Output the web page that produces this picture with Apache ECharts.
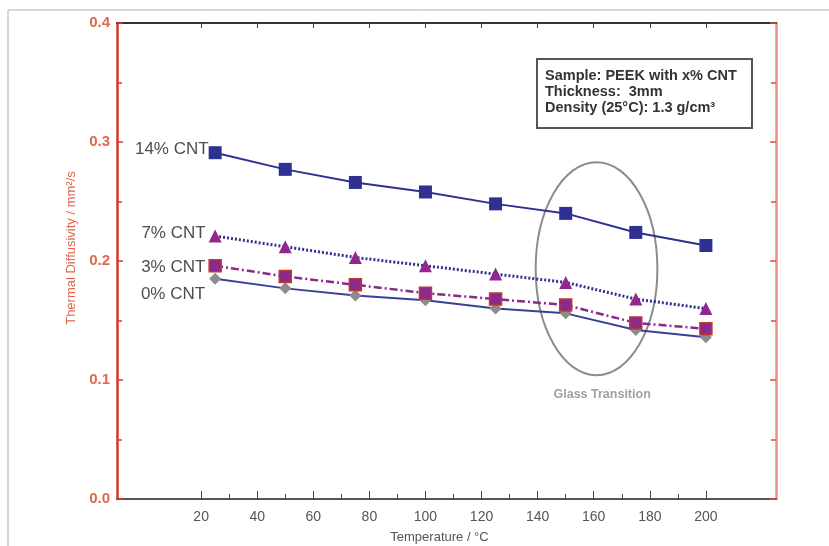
<!DOCTYPE html>
<html>
<head>
<meta charset="utf-8">
<script src="https://cdn.jsdelivr.net/npm/echarts@6/dist/echarts.min.js"></script>
<style>
  html, body { margin: 0; padding: 0; background: #fff; }
  #chart { width: 829px; height: 546px; }
</style>
</head>
<body>
<div id="chart"></div>
<script>
// temperatures (°C)
const temps = [25, 50, 75, 100, 125, 150, 175, 200];
// thermal diffusivity (mm²/s)
const cnt14 = [0.291, 0.277, 0.266, 0.258, 0.248, 0.240, 0.224, 0.213];
const cnt7 = [0.221, 0.212, 0.203, 0.196, 0.189, 0.182, 0.168, 0.160];
const cnt3 = [0.196, 0.187, 0.180, 0.173, 0.168, 0.163, 0.148, 0.143];
const cnt0 = [0.185, 0.177, 0.171, 0.167, 0.160, 0.156, 0.142, 0.136];
const seriesNames = ["14% CNT", "7% CNT", "3% CNT", "0% CNT"];

const majorTicks = [20, 40, 60, 80, 100, 120, 140, 160, 180, 200];
const minorTicks = [30, 50, 70, 90, 110, 130, 150, 170, 190];
const infoLines = ["Sample: PEEK with x% CNT", "Thickness:  3mm", "Density (25°C): 1.3 g/cm³"];

const font = "Liberation Sans, Arial, sans-serif";

function toPairs(vals, name, labelOffset, dist) {
    return vals.map((v, i) => {
        if (i > 0) return [temps[i], v];
        return {
            value: [temps[i], v],
            label: {
                show: true,
                position: "left",
                distance: dist,
                offset: labelOffset,
                formatter: name,
                color: "#4d4d4d",
                fontSize: 17,
                fontFamily: font
            }
        };
    });
}

let chart = echarts.init(document.getElementById("chart"), null, { renderer: "canvas" });

const xBase = { type: "value", min: -10, max: 225, splitLine: { show: false } };

const option = {
    animation: false,
    backgroundColor: "#fff",
    grid: { left: 117, right: 53, top: 23, bottom: 47, containLabel: false, outerBoundsMode: "none" },
    xAxis: [
        Object.assign({}, xBase, {
            position: "bottom",
            name: "Temperature / °C",
            nameLocation: "middle",
            nameGap: 32,
            nameTextStyle: { color: "#555", fontSize: 13, fontFamily: font, padding: [0, 14, 0, 0] },
            axisLine: { onZero: false, lineStyle: { color: "#555", width: 2 } },
            axisTick: { inside: true, length: 8, customValues: majorTicks, lineStyle: { color: "#444" } },
            axisLabel: { customValues: majorTicks, color: "#555", fontSize: 14, fontFamily: font, margin: 11 }
        }),
        Object.assign({}, xBase, {
            position: "bottom",
            axisLine: { show: false, onZero: false },
            axisTick: { inside: true, length: 5, customValues: minorTicks, lineStyle: { color: "#444" } },
            axisLabel: { show: false }
        }),
        Object.assign({}, xBase, {
            position: "top",
            axisLine: { onZero: false, lineStyle: { color: "#333", width: 2 } },
            axisTick: { inside: true, length: 5, customValues: majorTicks, lineStyle: { color: "#444" } },
            axisLabel: { show: false }
        })
    ],
    yAxis: [
        {
            type: "value",
            position: "left",
            min: 0,
            max: 0.4,
            interval: 0.1,
            name: "Thermal Diffusivity / mm²/s",
            nameLocation: "middle",
            nameGap: 38,
            nameTextStyle: { color: "#e2674d", fontSize: 13, fontFamily: font, padding: [0, 0, 0, 26] },
            splitLine: { show: false },
            axisLine: { onZero: false, lineStyle: { color: "#d8382c", width: 2.5 } },
            axisTick: { inside: true, length: 6, lineStyle: { color: "#d8382c", width: 1.5 } },
            minorTick: { show: true, splitNumber: 2, length: 5, lineStyle: { color: "#d8382c", width: 1.5 } },
            axisLabel: {
                color: "#e4674c",
                fontWeight: "bold",
                fontSize: 15,
                fontFamily: font,
                margin: 7,
                formatter: (v) => v.toFixed(1)
            }
        },
        {
            type: "value",
            position: "right",
            min: 0,
            max: 0.4,
            interval: 0.1,
            splitLine: { show: false },
            axisLine: { onZero: false, lineStyle: { color: "#ea937d", width: 2.5 } },
            axisTick: { inside: true, length: 6, lineStyle: { color: "#e04c3a", width: 1.5 } },
            minorTick: { show: true, splitNumber: 2, length: 5, lineStyle: { color: "#e04c3a", width: 1.5 } },
            axisLabel: { show: false }
        }
    ],
    series: [
        {
            name: seriesNames[3],
            type: "line",
            data: toPairs(cnt0, seriesNames[3], [0, 15], 4),
            symbol: "diamond",
            symbolSize: 12,
            lineStyle: { color: "#3a3f98", width: 2 },
            itemStyle: { color: "#8c8c8c" },
            z: 2
        },
        {
            name: seriesNames[2],
            type: "line",
            data: toPairs(cnt3, seriesNames[2], [0, 2], 3),
            symbol: "rect",
            symbolSize: 12,
            lineStyle: { color: "#8a2a8c", width: 2.5, type: [8, 3, 2, 3] },
            itemStyle: { color: "#8a2a8c", borderColor: "#c0392b", borderWidth: 1.5 },
            z: 3
        },
        {
            name: seriesNames[1],
            type: "line",
            data: toPairs(cnt7, seriesNames[1], [0, -3], 3),
            symbol: "triangle",
            symbolSize: 13,
            lineStyle: { color: "#2e3192", width: 3, type: [2, 2] },
            itemStyle: { color: "#93278f" },
            z: 3
        },
        {
            name: seriesNames[0],
            type: "line",
            data: toPairs(cnt14, seriesNames[0], [0, -3], 0),
            symbol: "rect",
            symbolSize: 13,
            lineStyle: { color: "#2e3192", width: 2 },
            itemStyle: { color: "#2e3192" },
            z: 3
        }
    ]
};

chart.setOption(option);

// annotations: frame, info box, glass-transition ellipse
const c = chart.convertToPixel({ xAxisIndex: 0, yAxisIndex: 0 }, [161, 0.1935]);
const e = chart.convertToPixel({ xAxisIndex: 0, yAxisIndex: 0 }, [182.7, 0.283]);
const gt = chart.convertToPixel({ xAxisIndex: 0, yAxisIndex: 0 }, [163, 0.0875]);

chart.setOption({
    graphic: [
        { type: "line", shape: { x1: 8, y1: 10, x2: 829, y2: 10 }, style: { stroke: "#b0b0b0", lineWidth: 1 } },
        { type: "line", shape: { x1: 8, y1: 10, x2: 8, y2: 546 }, style: { stroke: "#b0b0b0", lineWidth: 1 } },
        {
            type: "rect",
            shape: { x: 537, y: 59, width: 215, height: 69 },
            style: { fill: "#fff", stroke: "#555", lineWidth: 2 },
            z: 10
        },
        {
            type: "text",
            left: 545,
            top: 68,
            style: {
                text: infoLines.join("\n"),
                fill: "#333",
                font: "bold 14.5px " + font,
                lineHeight: 16
            },
            z: 11
        },
        {
            type: "ellipse",
            shape: { cx: c[0], cy: c[1], rx: e[0] - c[0], ry: c[1] - e[1] },
            style: { fill: null, stroke: "#8c8c8c", lineWidth: 2 },
            z: 1
        },
        {
            type: "text",
            x: gt[0],
            y: gt[1],
            style: {
                text: "Glass Transition",
                fill: "#a0a0a0",
                font: "bold 12.5px " + font,
                align: "center",
                verticalAlign: "middle"
            }
        }
    ]
});
</script>
</body>
</html>
